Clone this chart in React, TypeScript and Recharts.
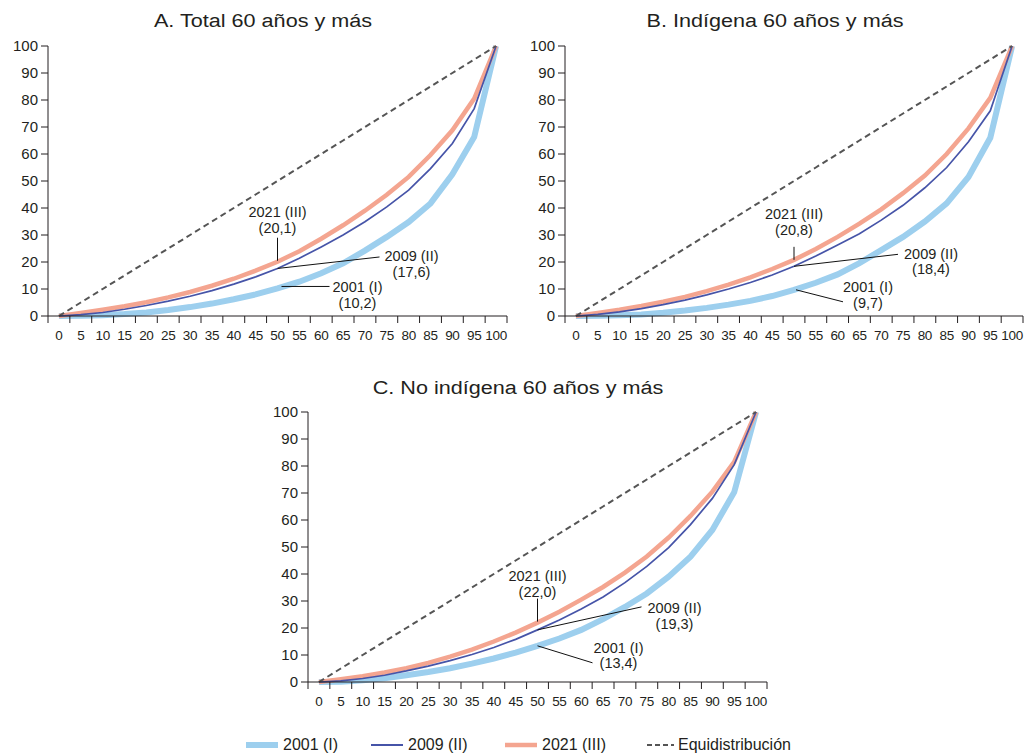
import React from 'react';
import { ComposedChart, Line, XAxis, YAxis, ReferenceDot } from 'recharts';

// cumulative % of population (categories on the x axis)
const PCT = [0, 5, 10, 15, 20, 25, 30, 35, 40, 45, 50, 55, 60, 65, 70, 75, 80, 85, 90, 95, 100];
const EQUI = [0, 5, 10, 15, 20, 25, 30, 35, 40, 45, 50, 55, 60, 65, 70, 75, 80, 85, 90, 95, 100];
const Y_TICKS = [0, 10, 20, 30, 40, 50, 60, 70, 80, 90, 100];

// A. Total 60 años y más
const A_2001 = [0, 0.1, 0.3, 0.7, 1.3, 2.2, 3.3, 4.6, 6.2, 8.0, 10.2, 12.7, 15.8, 19.5, 24.2, 29.3, 34.8, 41.7, 52.5, 66.3, 100];
const A_2009 = [0, 0.5, 1.3, 2.5, 3.9, 5.5, 7.3, 9.4, 11.8, 14.5, 17.6, 21.4, 25.6, 30.0, 34.9, 40.4, 46.6, 54.6, 63.9, 76.8, 100];
const A_2021 = [0, 1.1, 2.3, 3.6, 5.1, 6.9, 8.9, 11.2, 13.8, 16.8, 20.1, 24.0, 28.6, 33.6, 39.0, 44.9, 51.5, 59.6, 68.8, 80.5, 100];

// B. Indígena 60 años y más
const B_2001 = [0, 0.1, 0.3, 0.6, 1.2, 2.0, 3.0, 4.2, 5.6, 7.4, 9.7, 12.3, 15.4, 19.6, 24.4, 29.3, 35.0, 41.7, 51.5, 66.0, 100];
const B_2009 = [0, 0.6, 1.5, 2.7, 4.2, 5.9, 7.8, 10.0, 12.4, 15.2, 18.4, 22.2, 26.3, 30.5, 35.5, 41.0, 47.5, 55.0, 64.5, 76.0, 100];
const B_2021 = [0, 1.1, 2.3, 3.7, 5.3, 7.1, 9.2, 11.6, 14.3, 17.4, 20.8, 24.8, 29.3, 34.2, 39.5, 45.5, 52.0, 60.0, 69.5, 80.8, 100];

// C. No indígena 60 años y más
const C_2001 = [0, 0.1, 0.6, 1.4, 2.5, 3.7, 5.1, 6.8, 8.7, 10.9, 13.4, 16.1, 19.3, 23.3, 27.8, 32.8, 39.0, 46.4, 56.3, 70.3, 100];
const C_2009 = [0, 0.4, 1.3, 2.5, 4.1, 5.9, 7.9, 10.2, 12.8, 15.8, 19.3, 23.0, 27.0, 31.5, 36.8, 42.8, 49.8, 58.3, 68.0, 80.5, 100];
const C_2021 = [0, 1.0, 2.1, 3.5, 5.1, 7.1, 9.4, 12.0, 15.0, 18.3, 22.0, 26.0, 30.5, 35.2, 40.5, 46.5, 53.5, 61.5, 70.5, 81.5, 100];

// annotations at the median (x = 50): series label and share
const NOTE_X = 50;
const NOTE_LABELS = ['2021 (III)', '2009 (II)', '2001 (I)'];
const A_NOTES = ['(20,1)', '(17,6)', '(10,2)'];
const B_NOTES = ['(20,8)', '(18,4)', '(9,7)'];
const C_NOTES = ['(22,0)', '(19,3)', '(13,4)'];

const SERIES_NAMES = ['2001 (I)', '2009 (II)', '2021 (III)', 'Equidistribución'];

const INK = '#231f20';
const LIGHT = '#9dcfee';
const NAVY = '#4654a8';
const SALMON = '#f4a590';
const DASH = '#555555';
const FONT = '"Liberation Sans", Arial, Helvetica, sans-serif';

// leader/text offsets relative to the point on the curve (layout only)
type Off = { lx1: number; ly1: number; lx2: number; ly2: number; tx: number; ty1: number; ty2: number };
const A_OFF: Off[] = [
  { lx1: 0, ly1: -24, lx2: 0, ly2: -1, tx: 0, ty1: -50, ty2: -34 },
  { lx1: 0, ly1: 0, lx2: 102, ly2: -11.5, tx: 134, ty1: -12.5, ty2: 3.5 },
  { lx1: 4, ly1: -2, lx2: 52, ly2: -2, tx: 80, ty1: -1.5, ty2: 14.5 },
];
const B_OFF: Off[] = [
  { lx1: 0, ly1: -13, lx2: 0, ly2: 0, tx: 0, ty1: -46, ty2: -30 },
  { lx1: 0, ly1: 0, lx2: 104, ly2: -12, tx: 137, ty1: -12, ty2: 3 },
  { lx1: 2, ly1: 0, lx2: 49, ly2: 12, tx: 74, ty1: -3, ty2: 13 },
];
const C_OFF: Off[] = [
  { lx1: 0, ly1: -24, lx2: 0, ly2: -1, tx: 0, ty1: -47, ty2: -31 },
  { lx1: 0, ly1: 0, lx2: 104, ly2: -23, tx: 137, ty1: -22, ty2: -6 },
  { lx1: 0, ly1: 0, lx2: 55, ly2: 17, tx: 81, ty1: 2, ty2: 17 },
];

const XTick = (props: any) => {
  const { x, y, payload, index, bw } = props;
  return (
    <g>
      <line x1={x - bw / 2} x2={x - bw / 2} y1={y} y2={y + 7} stroke={INK} />
      {index === PCT.length - 1 && <line x1={x + bw / 2} x2={x + bw / 2} y1={y} y2={y + 7} stroke={INK} />}
      <text x={x} y={y + 19} textAnchor="middle" dominantBaseline="central" fontSize={13.5} fill={INK} fontFamily={FONT} letterSpacing={-0.3}>
        {payload.value}
      </text>
    </g>
  );
};

const noteShape = (label: string, value: string, o: Off) => (props: any) => {
  const { cx, cy } = props;
  return (
    <g>
      <line x1={cx + o.lx1} y1={cy + o.ly1} x2={cx + o.lx2} y2={cy + o.ly2} stroke="#111" strokeWidth={1} />
      <text x={cx + o.tx} y={cy + o.ty1} textAnchor="middle" dominantBaseline="central" fontSize={14.5} fill={INK} fontFamily={FONT}>{label}</text>
      <text x={cx + o.tx} y={cy + o.ty2} textAnchor="middle" dominantBaseline="central" fontSize={14.5} fill={INK} fontFamily={FONT}>{value}</text>
    </g>
  );
};

interface PanelProps {
  s1: number[];
  s2: number[];
  s3: number[];
  notes: string[];
  offs: Off[];
  width: number;
  right: number;
}

const H = 322;
const Y_W = 48;

const Panel: React.FC<PanelProps> = ({ s1, s2, s3, notes, offs, width, right }) => {
  const data = PCT.map((p, i) => ({ p, a: s1[i], b: s2[i], c: s3[i], eq: EQUI[i] }));
  const bw = (width - Y_W - right) / PCT.length;
  const mid = PCT.indexOf(NOTE_X);
  const noteY = [s3[mid], s2[mid], s1[mid]];
  return (
    <ComposedChart width={width} height={H} data={data} margin={{ top: 16, right, bottom: 12, left: 0 }}>
      <XAxis
        dataKey="p"
        type="category"
        scale="band"
        interval={0}
        height={24}
        tickLine={false}
        tickSize={0}
        tickMargin={0}
        axisLine={{ stroke: INK }}
        tick={<XTick bw={bw} />}
      />
      <YAxis
        domain={[0, 100]}
        ticks={Y_TICKS}
        width={Y_W}
        interval={0}
        tickSize={7}
        tickMargin={3}
        axisLine={{ stroke: INK }}
        tickLine={{ stroke: INK }}
        tick={{ fontSize: 15, fill: INK, fontFamily: FONT }}
      />
      <Line dataKey="a" stroke={LIGHT} strokeWidth={6} dot={false} isAnimationActive={false} strokeLinejoin="miter" />
      <Line dataKey="c" stroke={SALMON} strokeWidth={4.5} dot={false} isAnimationActive={false} strokeLinejoin="miter" />
      <Line dataKey="b" stroke={NAVY} strokeWidth={1.7} dot={false} isAnimationActive={false} />
      <Line dataKey="eq" stroke={DASH} strokeWidth={2} strokeDasharray="6 4" dot={false} isAnimationActive={false} />
      {NOTE_LABELS.map((lab, i) => (
        <ReferenceDot key={lab} x={NOTE_X} y={noteY[i]} r={0} shape={noteShape(lab, notes[i], offs[i])} />
      ))}
    </ComposedChart>
  );
};

const titleStyle = (left: number, top: number, width: number): React.CSSProperties => ({
  position: 'absolute',
  left,
  top,
  width,
  textAlign: 'center',
  fontSize: 18,
  lineHeight: '22px',
  color: INK,
  transform: 'scaleX(1.2)',
  whiteSpace: 'nowrap',
});

const LegendItem = ({ left, color, w, dash, name }: any) => (
  <div style={{ position: 'absolute', left, top: 0, display: 'flex', alignItems: 'center', height: 20 }}>
    <svg width={dash ? 27 : 32} height={10} style={{ marginRight: dash ? 4 : 5 }}>
      <line x1={0} x2={dash ? 27 : 32} y1={5} y2={5} stroke={color} strokeWidth={w} strokeDasharray={dash ? '5 3' : undefined} />
    </svg>
    <span style={{ fontSize: 16, lineHeight: '20px', color: INK }}>{name}</span>
  </div>
);

export default function App() {
  return (
    <div style={{ position: 'absolute', left: 0, top: 0, width: 1027, height: 754, fontFamily: FONT, background: '#fff', overflow: 'hidden' }}>
      <div style={titleStyle(0, 10, 526)}>A. Total 60 años y más</div>
      <div style={titleStyle(517, 10, 516)}>B. Indígena 60 años y más</div>
      <div style={titleStyle(260, 377, 516)}>C. No indígena 60 años y más</div>

      <div style={{ position: 'absolute', left: 0, top: 30 }}>
        <Panel s1={A_2001} s2={A_2009} s3={A_2021} notes={A_NOTES} offs={A_OFF} width={517} right={10} />
      </div>
      <div style={{ position: 'absolute', left: 517, top: 30 }}>
        <Panel s1={B_2001} s2={B_2009} s3={B_2021} notes={B_NOTES} offs={B_OFF} width={510} right={4} />
      </div>
      <div style={{ position: 'absolute', left: 260, top: 396 }}>
        <Panel s1={C_2001} s2={C_2009} s3={C_2021} notes={C_NOTES} offs={C_OFF} width={517} right={10} />
      </div>

      <div style={{ position: 'absolute', left: 0, top: 735, width: 1027, height: 20 }}>
        <LegendItem left={246} color={LIGHT} w={6} name={SERIES_NAMES[0]} />
        <LegendItem left={371} color={NAVY} w={2} name={SERIES_NAMES[1]} />
        <LegendItem left={505} color={SALMON} w={4.5} name={SERIES_NAMES[2]} />
        <LegendItem left={647} color={DASH} w={2} dash name={SERIES_NAMES[3]} />
      </div>
    </div>
  );
}
